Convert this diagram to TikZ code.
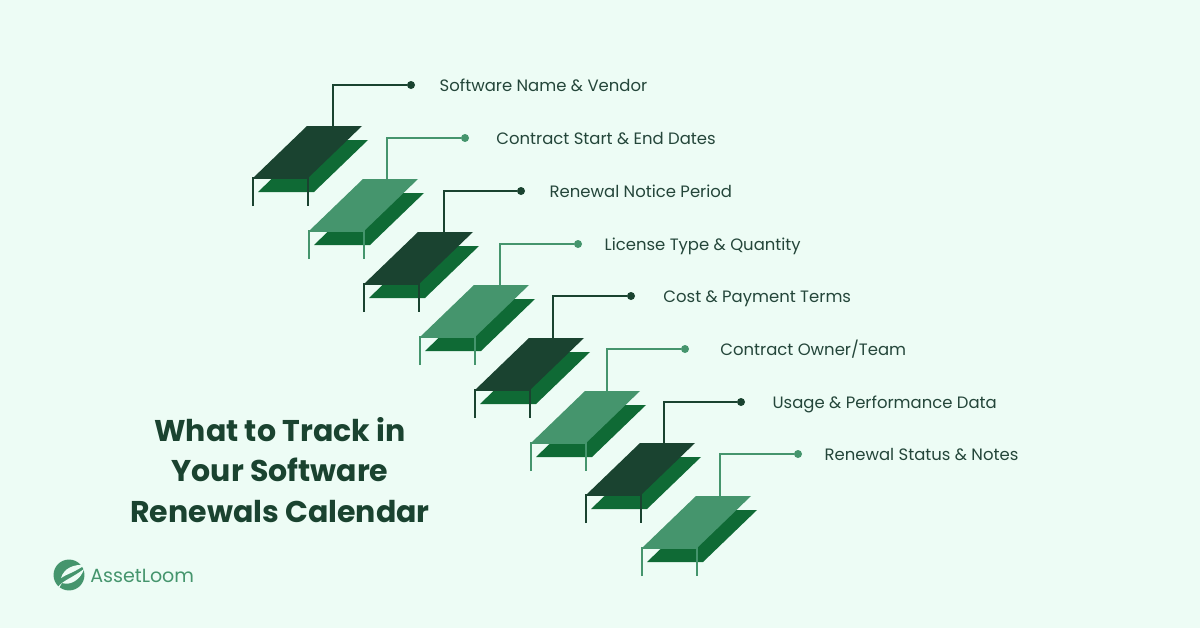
\documentclass[tikz,border=0pt]{standalone}
\usepackage{fontspec}
\setmainfont{Poppins}
\usepackage{xcolor}
\usetikzlibrary{positioning}

\definecolor{pagebg}{HTML}{EDFCF5}
\definecolor{stepdark}{HTML}{1A4330}
\definecolor{stepmid}{HTML}{45956D}
\definecolor{steplow}{HTML}{0F6A35}
\definecolor{textdark}{HTML}{24463A}

\begin{document}
\begin{tikzpicture}[
    x=0.75pt, y=-0.75pt,
    tread/.pic={
        \fill[steplow] (5,14) -- (61,14) -- (115,-38) -- (59,-38) -- cycle;
        \fill[#1] (0,0) -- (55,0) -- (109,-52) -- (54,-52) -- cycle;
        \draw[#1, line width=1.5pt] (0,28) -- (0,0) -- (55,0) -- (55,28);
    },
    pics/tread/.default=stepdark,
    dotdark/.style={circle, fill=stepdark, inner sep=0pt, minimum size=6pt},
    dotmid/.style={circle, fill=stepmid, inner sep=0pt, minimum size=6pt},
    stemdark/.style={draw=stepdark, line width=1.5pt},
    stemmid/.style={draw=stepmid, line width=1.5pt},
    itemtext/.style={inner sep=0pt, text height=12pt, text depth=3pt, font=\fontsize{12.35pt}{15pt}\selectfont, text=textdark},
    title/.style={align=center, font=\fontsize{22.5pt}{30.4pt}\selectfont\bfseries, text=stepdark}
]
    % Page
    \fill[pagebg] (0,0) rectangle (1200,628);
    \useasboundingbox (0,0) rectangle (1200,628);

    % Steps
    \pic at (253,178) {tread=stepdark};
    \pic at (309,231) {tread=stepmid};
    \pic at (364,284) {tread=stepdark};
    \pic at (420,337) {tread=stepmid};
    \pic at (475,390) {tread=stepdark};
    \pic at (531,443) {tread=stepmid};
    \pic at (586,495) {tread=stepdark};
    \pic at (642,548) {tread=stepmid};

    % Dots
    \node[dotdark] (dot1) at (411,85) {};
    \node[dotmid] (dot2) at (465,138) {};
    \node[dotdark] (dot3) at (521,191) {};
    \node[dotmid] (dot4) at (578,244) {};
    \node[dotdark] (dot5) at (631,296) {};
    \node[dotmid] (dot6) at (685,349) {};
    \node[dotdark] (dot7) at (741,402) {};
    \node[dotmid] (dot8) at (798,454) {};

    % Stems
    \coordinate (top1) at (333,126);
    \coordinate (top2) at (387,179);
    \coordinate (top3) at (444,232);
    \coordinate (top4) at (500,285);
    \coordinate (top5) at (553,338);
    \coordinate (top6) at (607,391);
    \coordinate (top7) at (664,443);
    \coordinate (top8) at (720,496);
    \draw[stemdark] (top1) |- (dot1);
    \draw[stemmid] (top2) |- (dot2);
    \draw[stemdark] (top3) |- (dot3);
    \draw[stemmid] (top4) |- (dot4);
    \draw[stemdark] (top5) |- (dot5);
    \draw[stemmid] (top6) |- (dot6);
    \draw[stemdark] (top7) |- (dot7);
    \draw[stemmid] (top8) |- (dot8);

    % Labels
    \node[itemtext, right=18.1pt of dot1] (item1) {Software Name \& Vendor};
    \node[itemtext, right=20.1pt of dot2] (item2) {Contract Start \& End Dates};
    \node[itemtext, right=18.1pt of dot3] (item3) {Renewal Notice Period};
    \node[itemtext, right=16.6pt of dot4] (item4) {License Type \& Quantity};
    \node[itemtext, right=20.9pt of dot5] (item5) {Cost \& Payment Terms};
    \node[itemtext, right=23.1pt of dot6] (item6) {Contract Owner/Team};
    \node[itemtext, right=20.3pt of dot7] (item7) {Usage \& Performance Data};
    \node[itemtext, right=16.5pt of dot8] (item8) {Renewal Status \& Notes};

    % Title
    \node[title] (heading) at (280,470) {What to Track in\\Your Software\\Renewals Calendar};

    % Logo
    \fill[stepmid] (69,575) circle (11.6pt);
    \fill[pagebg] (85,565) .. controls (74,564) and (64,568) .. (61,578) .. controls (67,574) and (73,573) .. (85,565) -- cycle;
    \fill[pagebg] (58,587) .. controls (62,581) and (72,578) .. (84,569) .. controls (81,579) and (71,586) .. (62,583) -- (59,588) -- cycle;
    \node[inner sep=0pt, anchor=west, font=\fontsize{14.3pt}{18pt}\selectfont, text=stepmid] (brand) at (90,576) {AssetLoom};
\end{tikzpicture}
\end{document}
